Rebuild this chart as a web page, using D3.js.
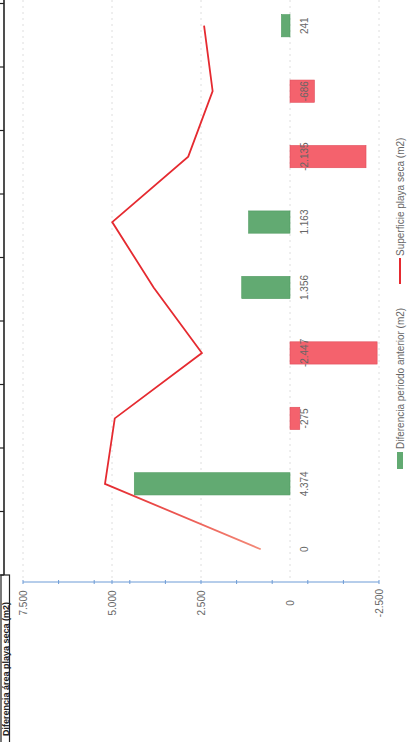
<!DOCTYPE html>
<html>
<head>
<meta charset="utf-8">
<script src="https://cdn.jsdelivr.net/npm/d3@7"></script>
<style>
  html, body { margin: 0; padding: 0; background: #fff; }
  svg { display: block; }
</style>
</head>
<body>
<svg id="chart" width="414" height="742"></svg>
<script>
// Periods of the beach survey (bottom to top in the rotated layout)
const periods = ["P1", "P2", "P3", "P4", "P5", "P6", "P7", "P8", "P9"];
// Change versus the previous period (m2)
const diferencia = [0, 4374, -275, -2447, 1356, 1163, -2135, -686, 241];
// Dry beach surface (m2)
const superficie = [823, 5197, 4922, 2475, 3831, 4994, 2859, 2173, 2414];
// Value axis
const axisLabels = [7500, 5000, 2500, 0, -2500];
const axisMinor = [7500, 6500, 5500, 5000, 4500, 3500, 2500, 1500, 500, -500, -1500, -2500];
const legendLabels = ["Diferencia periodo anterior (m2)", "Superficie playa seca (m2)"];
const tableHeader = "Diferencia área playa seca (m2)";
const tableRows = d3.range(0, 10);

const svg = d3.select("#chart");
const font = "'Liberation Sans', Arial, sans-serif";
const locale = d3.formatLocale({ decimal: ",", thousands: ".", grouping: [3], currency: ["", " €"], minus: "-" });
const fmt = locale.format(",d");

// Value scale runs right-to-left (chart is turned a quarter turn)
const x = d3.scaleLinear().domain([7500, -2500]).range([23, 379]);
// Categories run bottom-to-top
const y = d3.scaleBand().domain(periods).range([582, -7]).paddingInner(0.66).paddingOuter(0.33);
const yc = d => y(d) + y.bandwidth() / 2;

// Faint dotted gridlines
svg.append("g").selectAll("line").data(axisLabels).join("line")
  .attr("x1", d => x(d)).attr("x2", d => x(d))
  .attr("y1", 0).attr("y2", 578)
  .attr("stroke", "#dedede").attr("stroke-width", 1).attr("stroke-dasharray", "2,4");

// Bars
svg.append("g").selectAll("rect").data(periods).join("rect")
  .attr("x", (d, i) => Math.min(x(0), x(diferencia[i])))
  .attr("width", (d, i) => Math.abs(x(diferencia[i]) - x(0)))
  .attr("y", d => y(d))
  .attr("height", y.bandwidth())
  .attr("fill", (d, i) => diferencia[i] >= 0 ? "#62aa72" : "#f4626d")
  .attr("stroke", (d, i) => diferencia[i] >= 0 ? "#4f9a60" : "#e04c5a")
  .attr("stroke-width", 0.6);

// Surface line
const line = d3.line().x((d, i) => x(d)).y((d, i) => yc(periods[i]));
const defs = svg.append("defs");
const grad = defs.append("linearGradient").attr("id", "lineGrad")
  .attr("gradientUnits", "userSpaceOnUse")
  .attr("x1", 0).attr("x2", 0).attr("y1", yc(periods[0])).attr("y2", yc(periods[1]));
grad.append("stop").attr("offset", "0%").attr("stop-color", "#f38a78");
grad.append("stop").attr("offset", "100%").attr("stop-color", "#e52a30");
svg.append("path").datum(superficie)
  .attr("d", line)
  .attr("fill", "none")
  .attr("stroke", "url(#lineGrad)")
  .attr("stroke-width", 1.8)
  .attr("stroke-linejoin", "miter");

// Value labels
svg.append("g").selectAll("text").data(periods).join("text")
  .attr("transform", (d, i) => `translate(${x(0) + 14},${yc(d)}) rotate(-90)`)
  .attr("text-anchor", "middle")
  .attr("dominant-baseline", "central")
  .attr("font-family", font).attr("font-size", 10).attr("fill", "#666")
  .text((d, i) => fmt(diferencia[i]));

// Value axis
const axisY = 582;
svg.append("line")
  .attr("x1", x(7500)).attr("x2", x(-2500))
  .attr("y1", axisY).attr("y2", axisY)
  .attr("stroke", "#6d9bd6").attr("stroke-width", 1);
svg.append("g").selectAll("line").data(axisMinor).join("line")
  .attr("x1", d => x(d)).attr("x2", d => x(d))
  .attr("y1", axisY - 2).attr("y2", axisY + 2)
  .attr("stroke", "#6d9bd6").attr("stroke-width", 1);
svg.append("g").selectAll("text").data(axisLabels).join("text")
  .attr("transform", d => `translate(${x(d)},${axisY + 21}) rotate(-90)`)
  .attr("text-anchor", "middle")
  .attr("dominant-baseline", "central")
  .attr("font-family", font).attr("font-size", 10).attr("fill", "#666")
  .text(d => fmt(d));

// Legend
const lx = 400;
svg.append("rect").attr("x", lx - 3).attr("y", 452).attr("width", 6).attr("height", 17).attr("fill", "#62aa72");
svg.append("text")
  .attr("transform", `translate(${lx},449) rotate(-90)`)
  .attr("dominant-baseline", "central")
  .attr("font-family", font).attr("font-size", 10).attr("fill", "#666")
  .text(legendLabels[0]);
svg.append("line").attr("x1", lx).attr("x2", lx).attr("y1", 284).attr("y2", 258)
  .attr("stroke", "#e52a30").attr("stroke-width", 2);
svg.append("text")
  .attr("transform", `translate(${lx},256) rotate(-90)`)
  .attr("dominant-baseline", "central")
  .attr("font-family", font).attr("font-size", 10).attr("fill", "#666")
  .text(legendLabels[1]);

// Edge of the data table beside the chart
const rowY = d3.scaleLinear().domain([0, 9]).range([575, 3.5]);
svg.append("line").attr("x1", 4).attr("x2", 4).attr("y1", 0).attr("y2", 575)
  .attr("stroke", "#222").attr("stroke-width", 1.6);
svg.append("g").selectAll("line").data(tableRows).join("line")
  .attr("x1", 0).attr("x2", 4)
  .attr("y1", d => rowY(d)).attr("y2", d => rowY(d))
  .attr("stroke", "#222").attr("stroke-width", 1.2);
svg.append("rect").attr("x", 1).attr("y", 575).attr("width", 8.5).attr("height", 170)
  .attr("fill", "none").attr("stroke", "#222").attr("stroke-width", 1.2);
svg.append("text")
  .attr("transform", `translate(9,736) rotate(-90)`)
  .attr("font-family", font).attr("font-size", 9).attr("font-weight", "bold").attr("fill", "#222")
  .text(tableHeader);
</script>
</body>
</html>
